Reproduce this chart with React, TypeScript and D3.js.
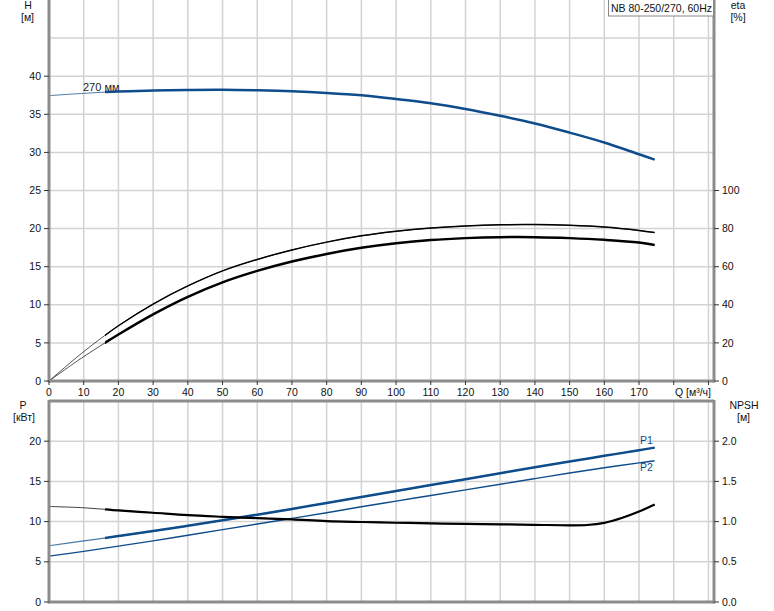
import * as d3 from "d3";
import { useEffect, useRef } from "react";

// flow points shared by the main curves (m³/h)
const flowQ = [0, 10, 20, 30, 40, 50, 60, 70, 80, 90, 100, 110, 120, 130, 140, 150, 160, 170, 174.5];
const headH = [37.45, 37.75, 38.0, 38.12, 38.2, 38.23, 38.15, 38.02, 37.8, 37.49, 37.0, 36.44, 35.7, 34.8, 33.8, 32.6, 31.3, 29.75, 29.05];
const etaPump = [0, 15.4, 29.0, 40.4, 49.9, 57.8, 63.8, 68.8, 72.9, 76.2, 78.6, 80.3, 81.4, 82.0, 82.1, 81.7, 80.8, 79.0, 77.9];
const etaTotal = [0, 12.8, 24.4, 35.0, 44.2, 51.8, 57.8, 62.7, 66.7, 69.9, 72.3, 74.0, 75.0, 75.5, 75.5, 75.0, 74.1, 72.7, 71.4];
const powerP1 = [7.0, 7.6, 8.2, 8.82, 9.48, 10.16, 10.86, 11.58, 12.32, 13.06, 13.8, 14.54, 15.28, 16.02, 16.76, 17.48, 18.18, 18.88, 19.2];
const powerP2 = [5.7, 6.3, 6.95, 7.6, 8.3, 9.0, 9.7, 10.4, 11.1, 11.85, 12.55, 13.25, 13.95, 14.65, 15.35, 16.05, 16.7, 17.3, 17.57];
const npshQ = [0, 10, 20, 30, 40, 50, 60, 70, 80, 90, 100, 110, 120, 130, 140, 150, 155, 160, 165, 170, 174.5];
const npshM = [1.188, 1.172, 1.139, 1.11, 1.08, 1.06, 1.043, 1.027, 1.006, 0.995, 0.986, 0.978, 0.972, 0.966, 0.96, 0.954, 0.958, 0.985, 1.045, 1.125, 1.213];

const qTicks = [0, 10, 20, 30, 40, 50, 60, 70, 80, 90, 100, 110, 120, 130, 140, 150, 160, 170, 180, 190];
const qLabels = [0, 10, 20, 30, 40, 50, 60, 70, 80, 90, 100, 110, 120, 130, 140, 150, 160, 170];
const hTicks = [0, 5, 10, 15, 20, 25, 30, 35, 40];
const hGrid = [5, 10, 15, 20, 25, 30, 35, 40, 45];
const etaTicks = [0, 20, 40, 60, 80, 100];
const pTicks = [0, 5, 10, 15, 20];
const npshTicks = [0, 0.5, 1.0, 1.5, 2.0];

const BLUE = "#0f4c8c";
const FONT = "'Liberation Sans', Arial, sans-serif";

export default function App() {
  const ref = useRef<SVGSVGElement>(null);

  useEffect(() => {
    const W = 774, H = 611;
    const L = 49, R = 714;
    const svg = d3.select(ref.current);
    svg.selectAll("*").remove();
    svg.attr("width", W).attr("height", H).style("font-family", FONT).style("font-size", "10.5px");

    const x = d3.scaleLinear().domain([0, 191.6]).range([L, R]);
    const yH = d3.scaleLinear().domain([0, 50]).range([381, 0]);
    const yEta = d3.scaleLinear().domain([0, 200]).range([381, 0]);
    const yP = d3.scaleLinear().domain([0, 25]).range([602, 401]);
    const yN = d3.scaleLinear().domain([0, 2.5]).range([602, 401]);

    svg.append("rect").attr("width", W).attr("height", H).attr("fill", "#fff");

    const defs = svg.append("defs");
    defs.append("clipPath").attr("id", "thick")
      .append("rect").attr("x", x(16.1)).attr("y", 0).attr("width", W).attr("height", H);

    // grids
    const grid = svg.append("g").attr("stroke", "#d3d3d3").attr("stroke-width", 1.5);
    qTicks.filter(q => q > 0).forEach(q => {
      grid.append("line").attr("x1", x(q)).attr("x2", x(q)).attr("y1", 0).attr("y2", 381);
      grid.append("line").attr("x1", x(q)).attr("x2", x(q)).attr("y1", 401).attr("y2", 602);
    });
    hGrid.forEach(h => grid.append("line").attr("x1", L).attr("x2", R).attr("y1", yH(h)).attr("y2", yH(h)));
    pTicks.filter(p => p > 0).forEach(p => grid.append("line").attr("x1", L).attr("x2", R).attr("y1", yP(p)).attr("y2", yP(p)));

    const curve = (xs: number[], ys: number[], yS: d3.ScaleLinear<number, number>) =>
      d3.line<number>().x((_, i) => x(xs[i])).y(d => yS(d)).curve(d3.curveCatmullRom.alpha(0.5))(ys);

    const drawCurve = (xs: number[], ys: number[], yS: d3.ScaleLinear<number, number>, color: string, thin: number, thick: number) => {
      const d = curve(xs, ys, yS)!;
      svg.append("path").attr("d", d).attr("fill", "none").attr("stroke", color).attr("stroke-width", thin).attr("opacity", 0.75);
      svg.append("path").attr("d", d).attr("fill", "none").attr("stroke", color).attr("stroke-width", thick)
        .attr("clip-path", "url(#thick)");
    };

    drawCurve(flowQ, headH, yH, BLUE, 1, 2.5);
    drawCurve(flowQ, etaPump, yEta, "#000", 0.9, 1.5);
    drawCurve(flowQ, etaTotal, yEta, "#000", 0.9, 2.5);
    drawCurve(flowQ, powerP1, yP, BLUE, 1.2, 2.5);
    svg.append("path").attr("d", curve(flowQ, powerP2, yP)!).attr("fill", "none").attr("stroke", BLUE).attr("stroke-width", 1.4);
    drawCurve(npshQ, npshM, yN, "#000", 1, 2.2);

    // axes frame
    const ax = svg.append("g").attr("stroke", "#8c8c8c").attr("stroke-width", 3);
    ax.append("line").attr("x1", L).attr("x2", L).attr("y1", 0).attr("y2", 382.5);
    ax.append("line").attr("x1", R).attr("x2", R).attr("y1", 0).attr("y2", 382.5);
    ax.append("line").attr("x1", L).attr("x2", R).attr("y1", 381).attr("y2", 381);
    ax.append("line").attr("x1", L).attr("x2", L).attr("y1", 400).attr("y2", 603.5);
    ax.append("line").attr("x1", R).attr("x2", R).attr("y1", 400).attr("y2", 603.5);
    ax.append("line").attr("x1", L).attr("x2", R).attr("y1", 401).attr("y2", 401);
    ax.append("line").attr("x1", L).attr("x2", R).attr("y1", 602).attr("y2", 602);

    // tick marks
    const tk = svg.append("g").attr("stroke", "#333").attr("stroke-width", 1);
    hTicks.forEach(h => tk.append("line").attr("x1", L - 5).attr("x2", L).attr("y1", yH(h)).attr("y2", yH(h)));
    etaTicks.forEach(e => tk.append("line").attr("x1", R).attr("x2", R + 5).attr("y1", yEta(e)).attr("y2", yEta(e)));
    qTicks.forEach(q => tk.append("line").attr("x1", x(q)).attr("x2", x(q)).attr("y1", 381).attr("y2", 385));
    pTicks.forEach(p => tk.append("line").attr("x1", L - 5).attr("x2", L).attr("y1", yP(p)).attr("y2", yP(p)));
    npshTicks.forEach(n => tk.append("line").attr("x1", R).attr("x2", R + 5).attr("y1", yN(n)).attr("y2", yN(n)));

    const txt = svg.append("g").attr("fill", "#111");
    hTicks.forEach(h => txt.append("text").attr("x", 41).attr("y", yH(h)).attr("dy", "0.35em").attr("text-anchor", "end").text(h));
    etaTicks.forEach(e => txt.append("text").attr("x", 722).attr("y", yEta(e)).attr("dy", "0.35em").text(e));
    qLabels.forEach(q => txt.append("text").attr("x", x(q)).attr("y", 396).attr("text-anchor", "middle").text(q));
    txt.append("text").attr("x", 711).attr("y", 396).attr("text-anchor", "end").text("Q [м³/ч]");
    pTicks.forEach(p => txt.append("text").attr("x", 41).attr("y", yP(p)).attr("dy", "0.35em").attr("text-anchor", "end").text(p));
    npshTicks.forEach(n => txt.append("text").attr("x", 722).attr("y", yN(n)).attr("dy", "0.35em").text(n.toFixed(1)));

    // axis titles
    const title = (tx: number, ty: number, s: string) =>
      txt.append("text").attr("x", tx).attr("y", ty).attr("text-anchor", "middle").text(s);
    title(28, 9, "H");
    title(27.5, 21, "[м]");
    title(738, 9, "eta");
    title(738, 21, "[%]");
    title(23, 409, "P");
    title(24, 421, "[кВт]");
    title(744, 409, "NPSH");
    title(743.5, 421, "[м]");

    txt.append("text").attr("x", 83).attr("y", 91).attr("fill", "#222").style("font-size", "11px").text("270 мм");
    txt.append("text").attr("x", 640).attr("y", 443.5).attr("fill", BLUE).text("P1");
    txt.append("text").attr("x", 640).attr("y", 471).attr("fill", BLUE).text("P2");

    // type box
    svg.append("rect").attr("x", 608.5).attr("y", -1).attr("width", 105).attr("height", 17)
      .attr("fill", "#fff").attr("stroke", "#888").attr("stroke-width", 1);
    svg.append("text").attr("x", 611).attr("y", 12).attr("fill", "#111").text("NB 80-250/270, 60Hz");
  }, []);

  return <svg ref={ref} style={{ position: "absolute", left: 0, top: 0 }} />;
}
